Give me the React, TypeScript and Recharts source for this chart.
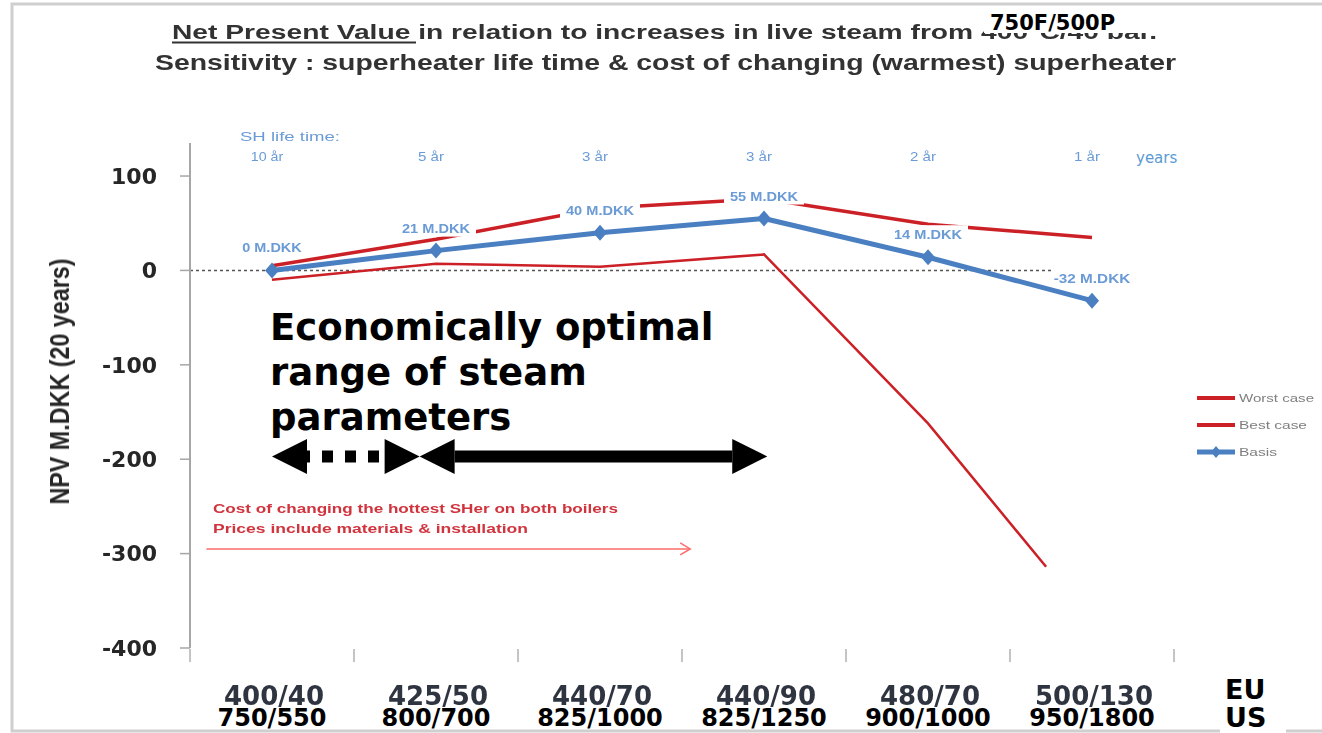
import React from "react";
import { LineChart, Line, XAxis, YAxis, ReferenceLine, Legend, LabelList } from "recharts";

// category positions on the numeric x axis
const positions = [0, 1, 2, 3, 4, 5];
const euLabels = ["400/40", "425/50", "440/70", "440/90", "480/70", "500/130"];
const usLabels = ["750/550", "800/700", "825/1000", "825/1250", "900/1000", "950/1800"];
const lifeTimes = ["10 år", "5 år", "3 år", "3 år", "2 år", "1 år"];

const basisValues = [0, 21, 40, 55, 14, -32];
const bestValues = [5, 33, 66, 76, 49, 35];
// worst case line is cut off in the source picture before the last category
const worstPositions = [0, 1, 2, 3, 4, 4.72];
const worstValues = [-10, 7, 4, 17, -162, -314];

const yTicks = [-400, -300, -200, -100, 0, 100];
const boundaryTicks = [-0.5, 0, 0.5, 1, 1.5, 2, 2.5, 3, 3.5, 4, 4.5, 5, 5.5];

const basisData = positions.map((x, i) => ({ x, value: basisValues[i] }));
const bestData = positions.map((x, i) => ({ x, value: bestValues[i] }));
const worstData = worstPositions.map((x, i) => ({ x, value: worstValues[i] }));

const BLUE = "#4a7fc1";
const RED = "#cc2027";
const LABEL_BLUE = "#6b9bd6";
const CALIBRI = "'Liberation Sans', Arial, sans-serif";
const VERDANA = "'DejaVu Sans', Verdana, sans-serif";

const diamond = (props: any) => {
  const { cx, cy, index } = props;
  return (
    <path
      key={`d-${index}`}
      d={`M${cx},${cy - 8} L${cx + 7},${cy} L${cx},${cy + 8} L${cx - 7},${cy} Z`}
      fill={BLUE}
    />
  );
};

const basisLabel = (props: any) => {
  const { x, y, value } = props;
  const text = `${value} M.DKK`;
  return (
    <g>
      <rect x={x - 40} y={y - 32} width={80} height={18} fill="#fff" />
      <text
        x={x}
        y={y - 18}
        textAnchor="middle"
        fontFamily={CALIBRI}
        fontSize={12}
        fontWeight="bold"
        fill={LABEL_BLUE}
        textLength={text.length * 8.5}
        lengthAdjust="spacingAndGlyphs"
        filter="url(#soft)"
      >
        {text}
      </text>
    </g>
  );
};

// bottom axis: boundary tick marks, two label rows, and the SH life time row above the plot
const bottomTick = (props: any) => {
  const { x, y, payload } = props;
  const v = payload.value;
  if (!Number.isInteger(v)) {
    return <line x1={x} x2={x} y1={y + 1} y2={y + 14} stroke="#c4c4c4" strokeWidth={2} />;
  }
  return (
    <g>
      <text
        x={x - 5}
        y={y - 487}
        textAnchor="middle"
        fontFamily={CALIBRI}
        fontSize={12}
        fill={LABEL_BLUE}
        textLength={lifeTimes[v].length * 6.5}
        lengthAdjust="spacingAndGlyphs"
        filter="url(#soft)"
      >
        {lifeTimes[v]}
      </text>
      <text
        x={x + 2}
        y={y + 57}
        textAnchor="middle"
        fontFamily={VERDANA}
        fontWeight="bold"
        fontSize={26}
        fill="#2f3440"
        filter="url(#soft)"
      >
        {euLabels[v]}
      </text>
      <text x={x} y={y + 78} textAnchor="middle" fontFamily={VERDANA} fontWeight="bold" fontSize={24} fill="#000">
        {usLabels[v]}
      </text>
    </g>
  );
};

const doubleArrow = (dotted: boolean) => (props: any) => {
  const { x1, x2, y1 } = props;
  const head = 35;
  const half = 17.5;
  return (
    <g>
      <line
        x1={x1 + head}
        x2={x2 - head}
        y1={y1}
        y2={y1}
        stroke="#000"
        strokeWidth={12}
        strokeDasharray={dotted ? "11 12" : undefined}
        strokeDashoffset={dotted ? 8 : undefined}
      />
      <polygon points={`${x1},${y1} ${x1 + head},${y1 - half} ${x1 + head},${y1 + half}`} fill="#000" />
      <polygon points={`${x2},${y1} ${x2 - head},${y1 - half} ${x2 - head},${y1 + half}`} fill="#000" />
    </g>
  );
};

const costArrow = (props: any) => {
  const { x1, x2, y1 } = props;
  return (
    <g>
      <line x1={x1} x2={x2} y1={y1} y2={y1} stroke="#ff6b6b" strokeWidth={1.5} />
      <polyline points={`${x2 - 10},${y1 - 6} ${x2},${y1} ${x2 - 10},${y1 + 6}`} fill="none" stroke="#ff6b6b" strokeWidth={1.5} />
    </g>
  );
};

const legendItems = [
  { name: "Worst case", color: RED, marker: false, width: 75 },
  { name: "Best case", color: RED, marker: false, width: 68 },
  { name: "Basis", color: BLUE, marker: true, width: 38 },
];

const renderLegend = () => (
  <svg width={127} height={80}>
    {legendItems.map((item, i) => {
      const cy = 10 + i * 27;
      return (
        <g key={item.name}>
          <line x1={2} x2={40} y1={cy} y2={cy} stroke={item.color} strokeWidth={item.marker ? 5 : 4} />
          {item.marker && <path d={`M21,${cy - 6} L26,${cy} L21,${cy + 6} L16,${cy} Z`} fill={item.color} />}
          <text
            x={44}
            y={cy + 4}
            fontFamily={CALIBRI}
            fontSize={11}
            fill="#7f7f7f"
            textLength={item.width}
            lengthAdjust="spacingAndGlyphs"
            filter="url(#soft)"
          >
            {item.name}
          </text>
        </g>
      );
    })}
  </svg>
);

const yAxisLabel = (props: any) => {
  const { viewBox } = props;
  const x = viewBox.x + 69;
  const y = viewBox.y + viewBox.height / 2 - 14;
  return (
    <text
      transform={`translate(${x},${y}) rotate(-90)`}
      textAnchor="middle"
      fontFamily={CALIBRI}
      fontWeight="bold"
      fontSize={27}
      fill="#262626"
      textLength={246}
      lengthAdjust="spacingAndGlyphs"
      filter="url(#soft)"
    >
      NPV M.DKK (20 years)
    </text>
  );
};

export default function App() {
  return (
    <div style={{ position: "absolute", left: 0, top: 0, width: 1322, height: 733, background: "#fff" }}>
      <svg width={0} height={0} style={{ position: "absolute" }}>
        <defs>
          <filter id="soft" x="-5%" y="-30%" width="110%" height="160%">
            <feGaussianBlur stdDeviation="0.6" />
          </filter>
        </defs>
      </svg>
      <LineChart width={1322} height={733} margin={{ top: 143, right: 148, bottom: 0, left: 0 }}>
        <XAxis
          type="number"
          dataKey="x"
          domain={[-0.5, 5.5]}
          ticks={boundaryTicks}
          interval={0}
          tick={bottomTick}
          tickSize={0}
          tickMargin={0}
          axisLine={false}
          height={85}
          allowDataOverflow
        />
        <YAxis
          type="number"
          domain={[-400, 135]}
          ticks={yTicks}
          interval={0}
          width={190}
          tickSize={10}
          tickMargin={23}
          allowDataOverflow
          axisLine={{ stroke: "#a6a6a6", strokeWidth: 2 }}
          tickLine={{ stroke: "#a6a6a6", strokeWidth: 1.5 }}
          tick={{ fontFamily: VERDANA, fontWeight: "bold", fontSize: 22, fill: "#262626", filter: "url(#soft)" }}
          label={{ content: yAxisLabel }}
        />
        <ReferenceLine
          segment={[{ x: -0.5, y: 0 }, { x: 5.05, y: 0 }]}
          stroke="#555"
          strokeWidth={1.5}
          strokeDasharray="3 3"
        />
        <ReferenceLine segment={[{ x: -0.4, y: -295 }, { x: 2.55, y: -295 }]} shape={costArrow} />
        <ReferenceLine segment={[{ x: 0, y: -197 }, { x: 0.9, y: -197 }]} shape={doubleArrow(true)} />
        <ReferenceLine segment={[{ x: 0.9, y: -197 }, { x: 3.02, y: -197 }]} shape={doubleArrow(false)} />
        <Legend
          layout="horizontal"
          align="center"
          verticalAlign="middle"
          content={renderLegend}
          wrapperStyle={{ position: "absolute", left: 1195, top: 388, width: 127, height: 80 }}
        />
        <Line
          data={worstData}
          dataKey="value"
          name="Worst case"
          stroke={RED}
          strokeWidth={2.5}
          dot={false}
          activeDot={false}
          isAnimationActive={false}
        />
        <Line
          data={bestData}
          dataKey="value"
          name="Best case"
          stroke={RED}
          strokeWidth={3.5}
          dot={false}
          activeDot={false}
          isAnimationActive={false}
        />
        <Line
          data={basisData}
          dataKey="value"
          name="Basis"
          stroke={BLUE}
          strokeWidth={5}
          strokeLinejoin="round"
          dot={diamond}
          activeDot={false}
          isAnimationActive={false}
        >
          <LabelList dataKey="value" content={basisLabel} />
        </Line>
      </LineChart>

      <svg width={1322} height={733} style={{ position: "absolute", left: 0, top: 0, pointerEvents: "none" }}>
        <rect x={12} y={4} width={1330} height={727} fill="none" stroke="#cfcfcf" strokeWidth={3} />
        {/* title */}
        <g filter="url(#soft)" fill="#333" fontFamily={CALIBRI} fontWeight="bold">
          <text x={172} y={39} fontSize={20} textLength={985} lengthAdjust="spacingAndGlyphs">
            Net Present Value in relation to increases in live steam from 400°C/40 bar.
          </text>
          <line x1={172} x2={416} y1={42.5} y2={42.5} stroke="#333" strokeWidth={2} />
          <text x={155} y={70} fontSize={22} textLength={1021} lengthAdjust="spacingAndGlyphs">
            Sensitivity : superheater life time &amp; cost of changing (warmest) superheater
          </text>
        </g>
        <rect x={984} y={8} width={180} height={25} fill="#fff" />
        <text x={990} y={30} fontFamily={VERDANA} fontWeight="bold" fontSize={21} fill="#000">
          750F/500P
        </text>
        {/* lifetime heading */}
        <text
          x={240}
          y={141}
          fontFamily={CALIBRI}
          fontSize={12}
          fill={LABEL_BLUE}
          textLength={100}
          lengthAdjust="spacingAndGlyphs"
          filter="url(#soft)"
        >
          SH life time:
        </text>
        <text x={1136} y={163} fontFamily={VERDANA} fontSize={15} fill="#5b9bd5">
          years
        </text>
        {/* big annotation */}
        <g fontFamily={VERDANA} fontWeight="bold" fontSize={37} fill="#000">
          <text x={270} y={340}>Economically optimal</text>
          <text x={270} y={385}>range of steam</text>
          <text x={270} y={430}>parameters</text>
        </g>
        {/* cost note */}
        <g fontFamily={CALIBRI} fontWeight="bold" fontSize={13} fill="#d0343e" filter="url(#soft)">
          <text x={213} y={513} textLength={405} lengthAdjust="spacingAndGlyphs">
            Cost of changing the hottest SHer on both boilers
          </text>
          <text x={213} y={533} textLength={315} lengthAdjust="spacingAndGlyphs">
            Prices include materials &amp; installation
          </text>
        </g>
        {/* region labels */}
        <rect x={1220} y={670} width={66} height={63} fill="#fff" />
        <g fontFamily={VERDANA} fontWeight="bold" fontSize={27} fill="#000">
          <text x={1225} y={699}>EU</text>
          <text x={1225} y={727}>US</text>
        </g>
      </svg>
    </div>
  );
}
